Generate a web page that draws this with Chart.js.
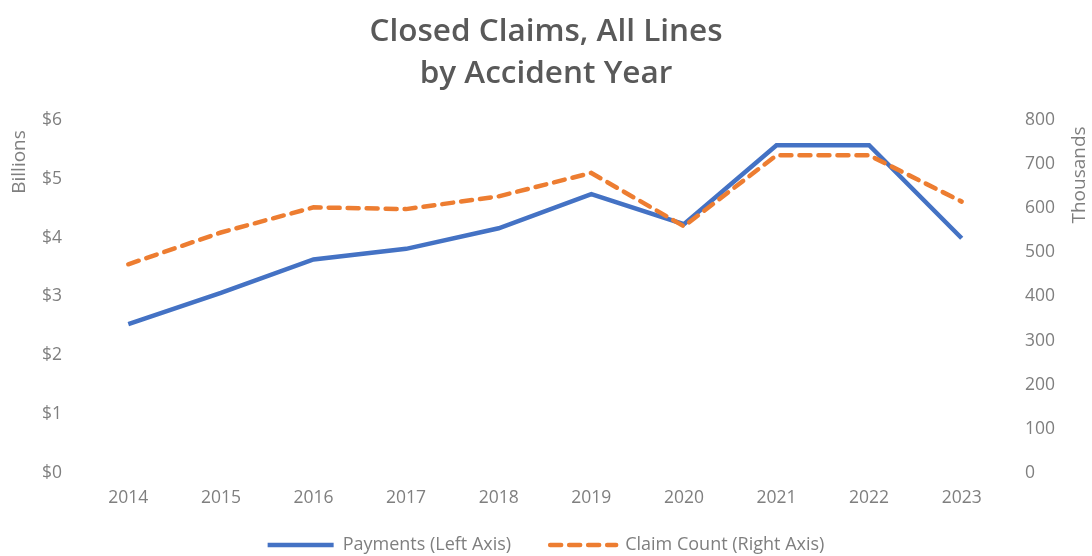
<!DOCTYPE html>
<html>
<head>
<meta charset="utf-8">
<script src="https://cdn.jsdelivr.net/npm/chart.js@4/dist/chart.umd.min.js"></script>
<style>
  html, body { margin: 0; padding: 0; background: #fff; }
  #wrap { width: 1092px; height: 556px; }
</style>
</head>
<body>
<div id="wrap"><canvas id="claims-chart"></canvas></div>
<script>
const YEARS = ['2014', '2015', '2016', '2017', '2018', '2019', '2020', '2021', '2022', '2023'];
// paid amounts, $ billions
const PAYMENTS = [2.53, 3.06, 3.63, 3.81, 4.16, 4.74, 4.23, 5.57, 5.57, 3.99];
// closed claim counts, thousands
const CLAIM_COUNT = [473, 545, 602, 598, 627, 680, 559, 720, 720, 615];
const LEFT_TICKS = [0, 1, 2, 3, 4, 5, 6];
const RIGHT_TICKS = [0, 100, 200, 300, 400, 500, 600, 700, 800];

const FONT = '"Open Sans", Lato, sans-serif';
const GREY = '#7f7f7f';

// unit captions sit near the top of each axis, like the spreadsheet display-unit labels
function drawUnit(ctx, text, x, y) {
  ctx.save();
  ctx.fillStyle = GREY;
  ctx.font = '19px ' + FONT;
  ctx.textAlign = 'center';
  ctx.textBaseline = 'middle';
  ctx.translate(x, y);
  ctx.rotate(-Math.PI / 2);
  ctx.fillText(text, 0, 0);
  ctx.restore();
}

const unitLabels = {
  id: 'unitLabels',
  afterDraw(chart) {
    const top = chart.chartArea.top;
    drawUnit(chart.ctx, 'Billions', 20, top + 42);
    drawUnit(chart.ctx, 'Thousands', 1080, top + 55);
  }
};

new Chart(document.getElementById('claims-chart'), {
  type: 'line',
  data: {
    labels: YEARS,
    datasets: [
      {
        label: 'Payments (Left Axis)',
        data: PAYMENTS,
        yAxisID: 'y',
        borderColor: '#4472c4',
        backgroundColor: '#4472c4',
        borderWidth: 4.5,
        pointRadius: 0,
        tension: 0,
        order: 2
      },
      {
        label: 'Claim Count (Right Axis)',
        data: CLAIM_COUNT,
        yAxisID: 'y1',
        borderColor: '#ed7d31',
        backgroundColor: '#ed7d31',
        borderWidth: 4.5,
        borderDash: [11, 8],
        borderCapStyle: 'round',
        pointRadius: 0,
        tension: 0,
        order: 1
      }
    ]
  },
  options: {
    responsive: true,
    maintainAspectRatio: false,
    animation: false,
    layout: { padding: { top: 0, bottom: -8, left: 0, right: 0 } },
    plugins: {
      title: {
        display: true,
        text: ['Closed Claims, All Lines', 'by Accident Year'],
        color: '#595959',
        font: { family: FONT, size: 31.5, weight: '600', lineHeight: 1.333 },
        padding: { top: 11, bottom: 25 }
      },
      legend: {
        position: 'bottom',
        labels: {
          usePointStyle: true,
          pointStyle: 'line',
          pointStyleWidth: 66,
          color: GREY,
          padding: 12,
          font: { family: FONT, size: 18 },
          sort: (a, b) => a.datasetIndex - b.datasetIndex,
          generateLabels(chart) {
            const items = Chart.defaults.plugins.legend.labels.generateLabels(chart);
            items.forEach(item => {
              const ds = chart.data.datasets[item.datasetIndex];
              item.lineDash = ds.borderDash || [];
              item.lineCap = ds.borderDash ? 'round' : 'butt';
              item.lineWidth = 4.5;
              // trailing spaces widen the gap before the next entry
              if (item.datasetIndex === 0) item.text += '\u2003\u2002';
            });
            return items;
          }
        }
      },
      tooltip: { enabled: false }
    },
    scales: {
      x: {
        offset: true,
        grid: { display: false, drawTicks: false },
        border: { display: false },
        ticks: { color: GREY, padding: 15, font: { family: FONT, size: 17.5 } }
      },
      y: {
        position: 'left',
        min: 0,
        max: 6,
        grid: { display: false, drawTicks: false },
        border: { display: false },
        afterBuildTicks(scale) { scale.ticks = LEFT_TICKS.map(v => ({ value: v })); },
        afterFit(scale) { scale.width = 82; },
        ticks: {
          color: GREY,
          padding: 20,
          font: { family: FONT, size: 17.5 },
          callback: v => '$' + v
        }
      },
      y1: {
        position: 'right',
        min: 0,
        max: 800,
        grid: { display: false, drawTicks: false },
        border: { display: false },
        afterBuildTicks(scale) { scale.ticks = RIGHT_TICKS.map(v => ({ value: v })); },
        afterFit(scale) { scale.width = 84; },
        ticks: { color: GREY, padding: 17, font: { family: FONT, size: 17.5 } }
      }
    }
  },
  plugins: [unitLabels]
});
</script>
</body>
</html>
